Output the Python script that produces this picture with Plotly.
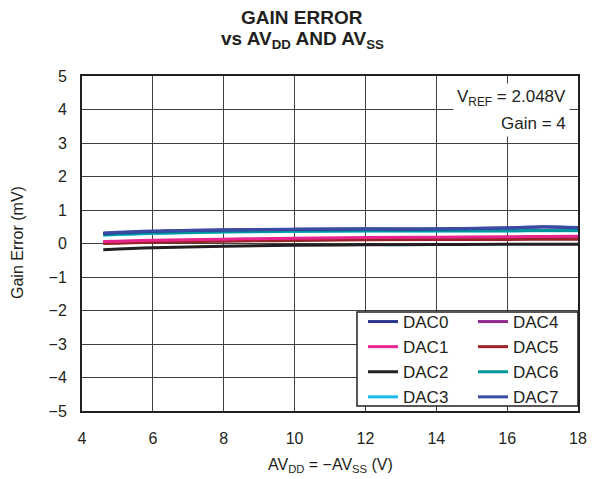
import plotly.graph_objects as go

supply_v = [4.6, 6, 8, 10, 12, 14, 16, 17, 18]

dac0 = [0.30, 0.36, 0.40, 0.42, 0.43, 0.43, 0.46, 0.49, 0.47]
dac1 = [0.06, 0.10, 0.13, 0.16, 0.18, 0.19, 0.20, 0.21, 0.22]
dac2 = [-0.19, -0.13, -0.08, -0.05, -0.04, -0.03, -0.02, -0.02, -0.02]
dac3 = [0.25, 0.30, 0.34, 0.36, 0.37, 0.37, 0.37, 0.38, 0.38]
dac4 = [0.03, 0.07, 0.10, 0.12, 0.14, 0.15, 0.16, 0.17, 0.17]
dac5 = [0.00, 0.04, 0.07, 0.09, 0.11, 0.12, 0.12, 0.13, 0.13]
dac6 = [0.26, 0.31, 0.35, 0.37, 0.38, 0.38, 0.38, 0.39, 0.39]
dac7 = [0.31, 0.37, 0.41, 0.43, 0.44, 0.44, 0.47, 0.50, 0.48]

x_ticks = [4, 6, 8, 10, 12, 14, 16, 18]
y_ticks = [-5, -4, -3, -2, -1, 0, 1, 2, 3, 4, 5]

FONT = "Liberation Sans, Arial, sans-serif"

series = [
    ("DAC3", dac3, "#1EBBEE", "legend"),
    ("DAC4", dac4, "#93288E", "legend2"),
    ("DAC5", dac5, "#9B2226", "legend2"),
    ("DAC1", dac1, "#E8258E", "legend"),
    ("DAC2", dac2, "#231F20", "legend"),
    ("DAC6", dac6, "#00979C", "legend2"),
    ("DAC0", dac0, "#2B3590", "legend"),
    ("DAC7", dac7, "#3B4AA3", "legend2"),
]
rank = {"DAC0": 1, "DAC1": 2, "DAC2": 3, "DAC3": 4,
        "DAC4": 5, "DAC5": 6, "DAC6": 7, "DAC7": 8}

fig = go.Figure()
for name, vals, color, leg in series:
    fig.add_trace(go.Scatter(
        x=supply_v, y=vals, mode="lines", name=name,
        line=dict(color=color, width=3, shape="spline"),
        legend=leg, legendrank=rank[name],
    ))

# page is drawn with an 8px body margin, so reference pixels are shifted by OFF
OFF = 8
W, H = 598 - OFF, 479 - OFF
PL, PR, PT, PB = 82 - OFF, 578 - OFF, 76 - OFF, 411 - OFF
pw, ph = PR - PL, PB - PT

def px(xref_px):
    return (xref_px - OFF - PL) / pw

def py(yref_px):
    return (PB - (yref_px - OFF)) / ph

legend_common = dict(
    bgcolor="rgba(0,0,0,0)", borderwidth=0,
    font=dict(family=FONT, size=17, color="#231F20"),
    yanchor="top", xanchor="left", traceorder="normal",
)

fig.update_layout(
    width=W, height=H,
    margin=dict(l=PL, r=W - PR, t=PT, b=H - PB, autoexpand=False),
    paper_bgcolor="white", plot_bgcolor="white",
    font=dict(family=FONT, size=16, color="#231F20"),
    showlegend=True,
    legend=dict(x=px(363), y=py(304), **legend_common),
    legend2=dict(x=px(473), y=py(304), **legend_common),
    xaxis=dict(
        range=[4, 18], tickvals=x_ticks, ticktext=[str(v) for v in x_ticks],
        showgrid=True, gridcolor="#404040", gridwidth=1,
        showline=True, linecolor="#231F20", linewidth=2, mirror=True,
        ticks="", ticklabelstandoff=12, zeroline=False, automargin=False,
        tickfont=dict(size=16),
    ),
    yaxis=dict(
        range=[-5, 5], tickvals=y_ticks,
        showgrid=True, gridcolor="#404040", gridwidth=1,
        showline=True, linecolor="#231F20", linewidth=2, mirror=True,
        ticks="", ticklabelstandoff=10, zeroline=False, automargin=False,
        tickfont=dict(size=16),
    ),
    shapes=[dict(
        type="rect", xref="paper", yref="paper",
        x0=px(357), x1=1.0, y0=py(406), y1=py(312),
        line=dict(color="#231F20", width=1.5), fillcolor="white",
        layer="above",
    )],
    annotations=[
        dict(text="<b>GAIN ERROR</b>", xref="paper", yref="paper",
             x=px(302), y=py(18), xanchor="center", yanchor="middle",
             showarrow=False, font=dict(size=19)),
        dict(text="<b>vs AV<sub>DD</sub> AND AV<sub>SS</sub></b>", xref="paper", yref="paper",
             x=px(302), y=py(40), xanchor="center", yanchor="middle",
             showarrow=False, font=dict(size=19)),
        dict(text="V<sub>REF</sub> = 2.048V", xref="paper", yref="paper",
             x=px(570), y=py(98), xanchor="right", yanchor="middle",
             showarrow=False, font=dict(size=17), bgcolor="white", borderpad=3),
        dict(text="Gain = 4", xref="paper", yref="paper",
             x=px(570), y=py(123), xanchor="right", yanchor="middle",
             showarrow=False, font=dict(size=17), bgcolor="white", borderpad=3),
        dict(text="AV<sub>DD</sub> = \u2212AV<sub>SS</sub> (V)", xref="paper", yref="paper",
             x=px(330), y=py(465), xanchor="center", yanchor="middle",
             showarrow=False, font=dict(size=16)),
        dict(text="Gain Error (mV)", xref="paper", yref="paper",
             x=px(17), y=py(243), xanchor="center", yanchor="middle",
             textangle=-90, showarrow=False, font=dict(size=16)),
    ],
)

fig.write_html("out.html")
